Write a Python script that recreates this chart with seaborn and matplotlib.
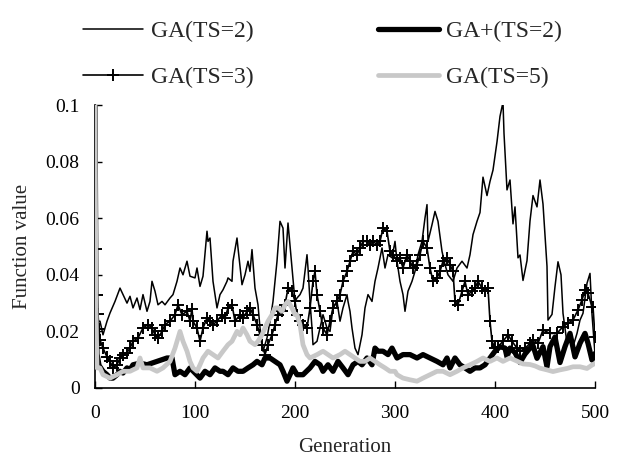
import matplotlib
matplotlib.use("Agg")
import matplotlib.pyplot as plt
import seaborn as sns
import pandas as pd

# ---------------- data ----------------
ts2_gen = [0, 1, 3, 5, 8, 12, 15, 20, 25, 28, 32, 35, 38, 42, 45, 48, 52, 55, 57, 60, 63, 67, 70, 75, 78,
           82, 85, 88, 92, 95, 100, 102, 105, 108, 112, 113, 115, 118, 122, 125, 128, 132, 133, 137, 138,
           142, 143, 147, 150, 153, 155, 157, 160, 163, 165, 168, 172, 175, 178, 182, 185, 188, 190, 193,
           197, 200, 202, 205, 208, 212, 213, 215, 217, 218, 222, 225, 228, 232, 235, 238, 242, 245, 248,
           252, 253, 255, 257, 260, 263, 267, 270, 273, 277, 280, 283, 287, 290, 293, 297, 300, 302, 305,
           308, 310, 313, 317, 320, 323, 327, 330, 332, 333, 337, 340, 343, 347, 350, 353, 358, 362, 367,
           372, 375, 378, 382, 385, 388, 392, 395, 398, 402, 405, 408, 409, 412, 415, 418, 420, 423, 425,
           428, 432, 435, 438, 442, 445, 448, 452, 453, 457, 460, 463, 466, 468, 472, 475, 478, 482, 485,
           488, 492, 495, 497, 500]
ts2_val = [0.1, 0.03, 0.0236, 0.0236, 0.0188, 0.0236, 0.0265, 0.0306, 0.0353, 0.033, 0.03, 0.0324, 0.0283,
           0.0318, 0.0277, 0.033, 0.0271, 0.0306, 0.0377, 0.0342, 0.0294, 0.0306, 0.0294, 0.0318, 0.033,
           0.0377, 0.0424, 0.04, 0.0448, 0.0395, 0.0389, 0.0424, 0.0359, 0.0395, 0.0554, 0.0518, 0.053,
           0.0377, 0.0283, 0.033, 0.0347, 0.0377, 0.0389, 0.0377, 0.0448, 0.053, 0.0495, 0.0365, 0.04,
           0.0448, 0.0412, 0.0489, 0.0353, 0.0294, 0.0212, 0.013, 0.0177, 0.0236, 0.0306, 0.0448, 0.0589,
           0.0565, 0.0424, 0.0583, 0.0424, 0.0306, 0.0318, 0.033, 0.0353, 0.0471, 0.0424, 0.0306, 0.0212,
           0.0153, 0.0165, 0.0212, 0.0259, 0.0212, 0.02, 0.0283, 0.0306, 0.0236, 0.0283, 0.033, 0.0306,
           0.0271, 0.0212, 0.0141, 0.0118, 0.0188, 0.0283, 0.033, 0.0306, 0.0377, 0.0424, 0.0495, 0.0424,
           0.0471, 0.046, 0.0518, 0.0448, 0.0377, 0.033, 0.0271, 0.0342, 0.0377, 0.0412, 0.0471, 0.0518,
           0.0601, 0.0648, 0.0518, 0.0577, 0.0624, 0.0589, 0.0483, 0.0436, 0.04, 0.0377, 0.0424, 0.0448,
           0.0424, 0.0471, 0.0542, 0.0589, 0.062, 0.0745, 0.068, 0.073, 0.077, 0.087, 0.096, 0.101, 0.09,
           0.070, 0.0735, 0.058, 0.064, 0.046, 0.047, 0.038, 0.045, 0.059, 0.068, 0.064, 0.0735, 0.065,
           0.043, 0.024, 0.026, 0.0358, 0.0446, 0.040, 0.0264, 0.0158, 0.0193, 0.0146, 0.0193, 0.024,
           0.0264, 0.037, 0.0405, 0.026, 0.012]

ts3_gen = [0, 1, 2, 3, 4, 5, 8, 12, 15, 18, 22, 25, 28, 32, 35, 38, 43, 48, 53, 57, 60, 63, 67, 70, 75,
           80, 83, 87, 92, 95, 97, 98, 102, 105, 108, 112, 115, 118, 122, 127, 130, 133, 137, 140, 145,
           148, 152, 155, 158, 162, 165, 167, 170, 173, 177, 180, 183, 187, 190, 193, 197, 200, 202, 205,
           208, 212, 215, 218, 220, 222, 225, 228, 232, 235, 238, 242, 245, 248, 252, 255, 258, 262, 265,
           268, 272, 275, 278, 282, 285, 288, 292, 295, 298, 302, 305, 308, 312, 315, 318, 322, 325, 328,
           332, 335, 338, 342, 345, 348, 352, 355, 358, 360, 363, 367, 370, 373, 377, 380, 383, 387, 390,
           393, 395, 397, 400, 403, 408, 413, 417, 422, 425, 430, 435, 438, 443, 448, 455, 462, 468, 473,
           478, 483, 487, 490, 493, 497, 498, 500]
ts3_val = [0.1, 0.049, 0.033, 0.026, 0.021, 0.017, 0.0141, 0.011, 0.0094, 0.0071, 0.0082, 0.0106, 0.0118,
           0.0125, 0.0141, 0.0165, 0.0177, 0.0212, 0.0224, 0.0212, 0.0188, 0.0177, 0.02, 0.0224, 0.0236,
           0.0259, 0.0294, 0.0259, 0.0271, 0.0236, 0.028, 0.0236, 0.0212, 0.0165, 0.0212, 0.0247, 0.0236,
           0.0224, 0.0236, 0.0259, 0.0247, 0.0283, 0.0294, 0.0236, 0.0259, 0.0247, 0.0271, 0.0283, 0.0259,
           0.0224, 0.0188, 0.0153, 0.0118, 0.0153, 0.0188, 0.0224, 0.0259, 0.0271, 0.0294, 0.0353, 0.0342,
           0.0306, 0.0259, 0.0236, 0.0224, 0.0212, 0.0283, 0.0377, 0.0412, 0.033, 0.0271, 0.0212, 0.0188,
           0.0236, 0.0283, 0.0306, 0.033, 0.0377, 0.0412, 0.0448, 0.0483, 0.0471, 0.0495, 0.0518, 0.0518,
           0.0507, 0.0518, 0.0507, 0.0518, 0.0565, 0.0554, 0.0483, 0.0471, 0.0448, 0.0459, 0.0424, 0.0471,
           0.0448, 0.0424, 0.0436, 0.0471, 0.0518, 0.0495, 0.0424, 0.0377, 0.0389, 0.0412, 0.0448, 0.0459,
           0.0436, 0.0412, 0.0306, 0.0294, 0.0342, 0.0377, 0.033, 0.0342, 0.0353, 0.0377, 0.0353, 0.0342,
           0.0353, 0.0236, 0.0165, 0.0141, 0.0146, 0.0165, 0.0188, 0.0165, 0.0141, 0.013, 0.014, 0.0158,
           0.017, 0.0158, 0.0205, 0.0193, 0.0193, 0.0217, 0.0229, 0.024, 0.0276, 0.0311, 0.0346, 0.0335,
           0.0287, 0.0287, 0.0181]

gap_gen = [0, 1, 2, 4, 8, 12, 15, 18, 22, 25, 28, 32, 35, 38, 45, 52, 57, 62, 67, 72, 77, 80, 85, 90, 95,
           100, 105, 110, 115, 120, 125, 128, 133, 138, 143, 148, 153, 158, 162, 167, 170, 175, 180, 185,
           188, 192, 195, 198, 200, 202, 208, 215, 220, 225, 228, 233, 238, 243, 248, 253, 258, 263, 267,
           272, 277, 280, 283, 288, 293, 297, 302, 308, 315, 322, 328, 335, 342, 348, 352, 355, 360, 365,
           370, 375, 380, 385, 390, 395, 400, 405, 410, 412, 415, 420, 425, 430, 435, 438, 442, 448, 452,
           455, 460, 465, 470, 475, 480, 485, 490, 493, 497, 500]
gap_val = [0.1, 0.03, 0.012, 0.008, 0.0059, 0.0047, 0.0035, 0.0035, 0.0047, 0.0059, 0.0053, 0.0071, 0.0065,
           0.0082, 0.0088, 0.0082, 0.0088, 0.0094, 0.01, 0.0106, 0.0106, 0.0047, 0.0059, 0.0047, 0.0071,
           0.0053, 0.0035, 0.0059, 0.0047, 0.0071, 0.0059, 0.0059, 0.0047, 0.0071, 0.0059, 0.0059, 0.0071,
           0.0082, 0.0094, 0.0082, 0.0106, 0.0106, 0.0094, 0.0082, 0.0059, 0.0024, 0.0047, 0.0071, 0.0059,
           0.0047, 0.0047, 0.0071, 0.0094, 0.0082, 0.0059, 0.0082, 0.0059, 0.0094, 0.0071, 0.0047, 0.0082,
           0.0094, 0.0082, 0.0106, 0.0082, 0.0141, 0.013, 0.013, 0.0118, 0.0141, 0.0106, 0.0118, 0.0118,
           0.0106, 0.0118, 0.0106, 0.0094, 0.0082, 0.0106, 0.0071, 0.0106, 0.0082, 0.0071, 0.0059, 0.0071,
           0.0071, 0.0082, 0.0106, 0.013, 0.0146, 0.0141, 0.011, 0.0141, 0.0125, 0.009, 0.012, 0.0141,
           0.015, 0.0105, 0.0146, 0.0075, 0.0146, 0.018, 0.009, 0.0146, 0.0193, 0.011, 0.0158, 0.0193,
           0.0158, 0.0099, 0.0122]

ts5_gen = [0, 1, 2, 5, 8, 15, 22, 28, 35, 42, 45, 48, 55, 62, 68, 75, 80, 85, 88, 92, 95, 98, 102, 105,
           108, 113, 118, 123, 128, 133, 137, 142, 145, 148, 152, 155, 160, 163, 167, 170, 173, 177, 180,
           183, 187, 190, 193, 197, 200, 202, 205, 208, 212, 215, 222, 228, 233, 238, 245, 250, 255, 260,
           265, 270, 275, 280, 285, 290, 295, 300, 302, 308, 315, 322, 328, 335, 342, 348, 355, 362, 368,
           375, 382, 388, 395, 402, 408, 415, 422, 428, 435, 440, 445, 452, 458, 465, 472, 478, 485, 492,
           497, 500]
ts5_val = [0.1, 0.03, 0.0071, 0.0071, 0.0047, 0.0035, 0.0047, 0.0059, 0.0059, 0.0071, 0.0106, 0.0071,
           0.0071, 0.0059, 0.0071, 0.0094, 0.0141, 0.02, 0.0165, 0.013, 0.0094, 0.0071, 0.0059, 0.0082,
           0.0106, 0.013, 0.0118, 0.0106, 0.013, 0.0153, 0.0165, 0.02, 0.0188, 0.0212, 0.0188, 0.0165,
           0.0153, 0.0165, 0.0188, 0.0212, 0.0236, 0.0259, 0.0283, 0.0283, 0.0271, 0.0294, 0.0306, 0.0283,
           0.0259, 0.0259, 0.0224, 0.0153, 0.0118, 0.0106, 0.0118, 0.013, 0.0118, 0.0106, 0.0118, 0.013,
           0.0118, 0.0106, 0.0094, 0.0094, 0.0106, 0.0094, 0.0082, 0.0071, 0.0059, 0.0059, 0.0047, 0.0035,
           0.0029, 0.0024, 0.0035, 0.0047, 0.0059, 0.0059, 0.0047, 0.0059, 0.0071, 0.0082, 0.0094, 0.0106,
           0.0094, 0.0106, 0.0094, 0.0106, 0.0095, 0.0085, 0.0083, 0.0078, 0.007, 0.0064, 0.0058, 0.0064,
           0.0069, 0.0075, 0.0075, 0.0069, 0.0081, 0.0087]

series_names = ["GA(TS=2)", "GA+(TS=2)", "GA(TS=3)", "GA(TS=5)"]
x_ticks = [0, 100, 200, 300, 400, 500]
y_ticks = [0, 0.02, 0.04, 0.06, 0.08, 0.1]
y_tick_labels = ["0", "0.02", "0.04", "0.06", "0.08", "0.1"]

# ---------------- plotting ----------------
sns.set_style("ticks")
plt.rcParams["font.family"] = ["Liberation Serif", "DejaVu Serif"]

fig = plt.figure(figsize=(6.2, 4.59), dpi=100)
ax = fig.add_axes([95 / 620, 1 - 388 / 459, 500 / 620, 283 / 459])

df_ts2 = pd.DataFrame({"gen": ts2_gen, "val": ts2_val})
df_gap = pd.DataFrame({"gen": gap_gen, "val": gap_val})
df_ts3 = pd.DataFrame({"gen": ts3_gen, "val": ts3_val})
df_ts5 = pd.DataFrame({"gen": ts5_gen, "val": ts5_val})

sns.lineplot(data=df_ts2, x="gen", y="val", ax=ax, color="black", linewidth=1.1,
             label=series_names[0], zorder=3)
sns.lineplot(data=df_ts3, x="gen", y="val", ax=ax, color="black", linewidth=1.2,
             marker="+", markersize=8, markeredgewidth=1.4, markeredgecolor="black",
             markerfacecolor="black", label=series_names[2], zorder=4)
sns.lineplot(data=df_gap, x="gen", y="val", ax=ax, color="black", linewidth=3.8,
             label=series_names[1], zorder=5)
sns.lineplot(data=df_ts5, x="gen", y="val", ax=ax, color="#c8c8c8", linewidth=3.4,
             label=series_names[3], zorder=6)

ax.set_xlim(0, 500)
ax.set_ylim(0, 0.1)
ax.set_xticks(x_ticks)
ax.set_xticklabels([str(t) for t in x_ticks])
ax.set_yticks(y_ticks)
ax.set_yticklabels(y_tick_labels)
ax.tick_params(direction="in", length=5, width=1, colors="black", labelsize=14, pad=11)
ax.tick_params(axis="x", pad=12)
for s in ["top", "right"]:
    ax.spines[s].set_visible(False)
for s in ["left", "bottom"]:
    ax.spines[s].set_color("black")
    ax.spines[s].set_linewidth(1.2)
ax.set_xlabel("Generation", fontsize=15, labelpad=12)
ax.set_ylabel("Function value", fontsize=15, labelpad=10)

handles, labels = ax.get_legend_handles_labels()
order = ["GA(TS=2)", "GA(TS=3)", "GA+(TS=2)", "GA(TS=5)"]
hmap = dict(zip(labels, handles))
if ax.legend_:
    ax.legend_.remove()
fig.legend([hmap[k] for k in order], order, loc="upper left",
           bbox_to_anchor=(62 / 620, 1 + 1 / 459), ncol=2, frameon=False, fontsize=17,
           handlelength=2.55, handletextpad=0.3, columnspacing=5.3, labelspacing=1.05,
           numpoints=1)

fig.savefig("out.png", dpi=100)
